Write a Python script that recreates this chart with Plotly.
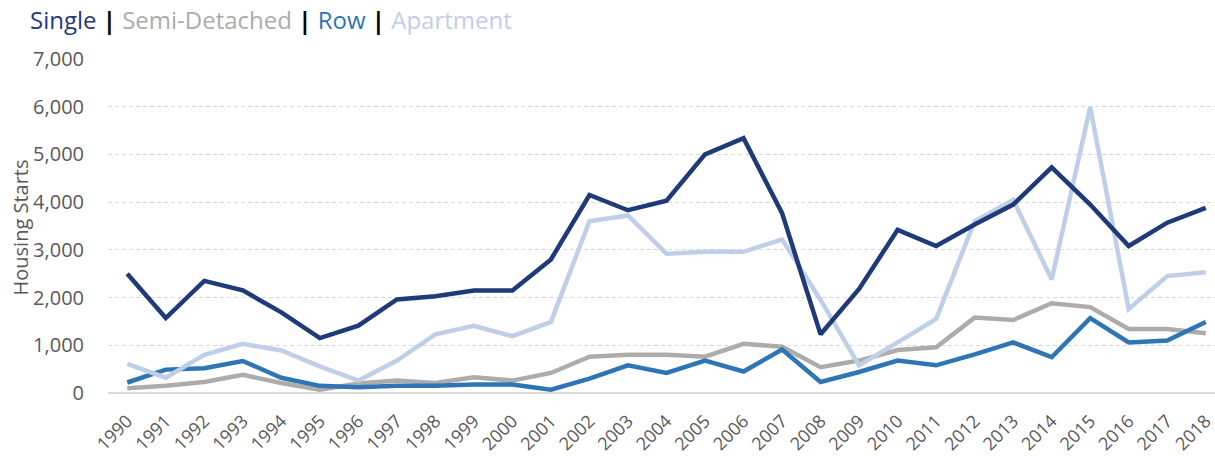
import plotly.graph_objects as go

years = [str(y) for y in range(1990, 2019)]

single = [2500, 1570, 2350, 2150, 1690, 1150, 1410, 1960, 2030, 2150, 2150, 2800,
          4150, 3830, 4030, 5000, 5340, 3770, 1230, 2180, 3420, 3080, 3530, 3950,
          4730, 3950, 3080, 3570, 3880]
semi_detached = [100, 150, 230, 380, 210, 70, 200, 260, 210, 330, 260, 420,
                 760, 800, 800, 760, 1030, 970, 540, 680, 900, 960, 1580, 1530,
                 1880, 1800, 1340, 1340, 1250]
row = [220, 490, 520, 670, 320, 150, 120, 150, 150, 180, 180, 70,
       300, 580, 420, 680, 450, 910, 230, 440, 680, 580, 810, 1060,
       750, 1570, 1060, 1100, 1490]
apartment = [610, 320, 800, 1030, 890, 560, 260, 680, 1230, 1410, 1190, 1490,
             3600, 3720, 2920, 2960, 2960, 3220, 1950, 580, 1060, 1550, 3600, 4050,
             2380, 5990, 1760, 2450, 2530]

y_ticks = [0, 1000, 2000, 3000, 4000, 5000, 6000, 7000]

FONT = "Open Sans, sans-serif"
GREY_TEXT = "#595959"

series = [
    ("Semi-Detached", semi_detached, "#AEABAB"),
    ("Row", row, "#2E75B6"),
    ("Apartment", apartment, "#BFCFE8"),
    ("Single", single, "#1F3A78"),
]

fig = go.Figure()
for name, vals, color in series:
    fig.add_trace(go.Scatter(
        x=list(range(len(years))), y=vals, name=name, mode="lines",
        line=dict(color=color, width=4.5), showlegend=False,
    ))

sep = "<span style='color:#000000'> <b>|</b> </span>"
title_html = (
    "<span style='color:#1F3A78'>Single</span>" + sep +
    "<span style='color:#AEABAB'>Semi-Detached</span>" + sep +
    "<span style='color:#2E75B6'>Row</span>" + sep +
    "<span style='color:#BFCFE8'>Apartment</span>"
)

fig.update_layout(
    width=1215, height=456,
    margin=dict(l=108, r=0, t=59, b=63),
    paper_bgcolor="white", plot_bgcolor="white",
    font=dict(family=FONT, color=GREY_TEXT),
    annotations=[
        dict(
            text=title_html, xref="paper", yref="paper", x=-0.0723, y=1.117,
            xanchor="left", yanchor="middle", showarrow=False,
            font=dict(size=24, family=FONT),
        ),
        dict(
            text="Housing Starts", xref="paper", yref="paper", x=-0.0786, y=0.4955,
            xanchor="center", yanchor="middle", textangle=-90, showarrow=False,
            font=dict(size=20, family=FONT, color=GREY_TEXT),
        ),
    ],
    xaxis=dict(
        tickmode="array", tickvals=list(range(len(years))), ticktext=years,
        range=[-0.5, 28.24], tickangle=-45, showgrid=False, zeroline=False,
        showline=False, ticks="", ticklabelstandoff=13, automargin=False,
        ticklabeloverflow="allow",
        tickfont=dict(size=18, color=GREY_TEXT),
    ),
    yaxis=dict(
        range=[0, 7000], tickvals=y_ticks, tickformat=",d", automargin=False,
        showgrid=True, gridcolor="#D9D9D9", griddash="4px,3px", gridwidth=1,
        zeroline=True, zerolinecolor="#D9D9D9", zerolinewidth=2,
        tickfont=dict(size=20, color=GREY_TEXT), ticks="", ticklabelstandoff=23,
    ),
)

fig.write_html("out.html")
